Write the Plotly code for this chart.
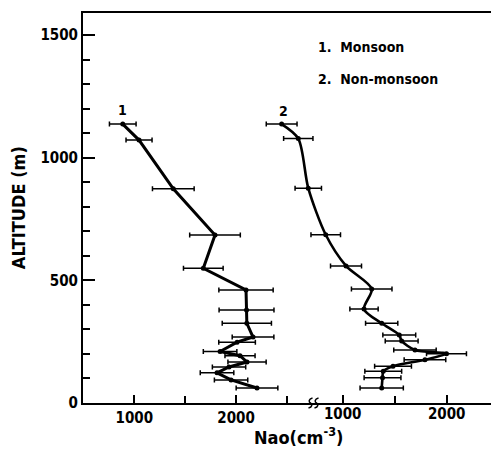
import plotly.graph_objects as go

# Curve 1: Monsoon
alt1 = [1137, 1072, 873, 685, 549, 461, 379, 325, 269, 248, 210, 193, 167, 147, 123, 94, 61]
nao1 = [886, 1046, 1383, 1793, 1678, 2098, 2103, 2106, 2167, 2010, 1843, 2039, 2108, 1931, 1813, 1951, 2206]
err1 = [131, 128, 205, 249, 195, 267, 270, 242, 205, 180, 165, 148, 188, 164, 165, 164, 205]

# Curve 2: Non-monsoon
alt2 = [1137, 1078, 876, 686, 559, 465, 383, 325, 277, 253, 216, 201, 176, 150, 129, 103, 61]
nao2 = [413, 573, 669, 837, 1032, 1279, 1205, 1375, 1544, 1567, 1695, 1998, 1791, 1484, 1390, 1383, 1375]
err2 = [148, 141, 127, 142, 149, 195, 136, 155, 158, 158, 204, 192, 200, 177, 177, 177, 208]

xticks1 = [1000, 2000]
xminor1 = [1500, 2500]
xticks2 = [1000, 2000]
xminor2 = [1500]
yticks = [0, 500, 1000, 1500]

FONT = "DejaVu Sans Condensed, DejaVu Sans, sans-serif"

fig = go.Figure()
fig.add_trace(go.Scatter(
    x=nao1, y=alt1, mode="lines+markers", xaxis="x", yaxis="y",
    line=dict(color="black", width=3),
    marker=dict(color="black", size=5),
    error_x=dict(type="data", array=err1, symmetric=True, color="black",
                 thickness=1.5, width=2.5),
    showlegend=False))
fig.add_trace(go.Scatter(
    x=nao2, y=alt2, mode="lines+markers", xaxis="x2", yaxis="y",
    line=dict(color="black", width=2.6, shape="spline", smoothing=0.8),
    marker=dict(color="black", size=5),
    error_x=dict(type="data", array=err2, symmetric=True, color="black",
                 thickness=1.5, width=2.5),
    showlegend=False))

axis_font = dict(family=FONT, size=15, color="black", weight="bold")

fig.update_layout(
    width=491, height=458,
    margin=dict(l=83, r=0, t=13, b=55),
    paper_bgcolor="white", plot_bgcolor="white",
    font=dict(family=FONT, color="black", weight="bold"),
    xaxis=dict(range=[495, 4507], tickvals=xticks1,
               ticks="inside", ticklen=8, tickwidth=2, tickcolor="black",
               minor=dict(tickvals=xminor1, ticks="inside", ticklen=7,
                          tickwidth=2, tickcolor="black", showgrid=False),
               showline=True, linewidth=2, linecolor="black", mirror=True,
               showgrid=False, zeroline=False, tickfont=axis_font),
    xaxis2=dict(range=[-1497, 2426], tickvals=xticks2,
                overlaying="x", anchor="y", side="bottom",
                ticks="inside", ticklen=8, tickwidth=2, tickcolor="black",
                minor=dict(tickvals=xminor2, ticks="inside", ticklen=7,
                           tickwidth=2, tickcolor="black", showgrid=False),
                showline=False, showgrid=False, zeroline=False, tickfont=axis_font),
    yaxis=dict(range=[0, 1590], tickvals=yticks,
               ticks="inside", ticklen=12, tickwidth=2, tickcolor="black",
               minor=dict(dtick=100, tick0=0, ticks="inside", ticklen=7,
                          tickwidth=2, tickcolor="black", showgrid=False),
               showline=True, linewidth=2, linecolor="black",
               showgrid=False, zeroline=False, tickfont=axis_font),
)

# Axis titles
fig.add_annotation(xref="paper", yref="paper", x=0.527, y=-0.085,
                   text="Nao(cm<sup>-3</sup>)", showarrow=False,
                   xanchor="center", yanchor="middle",
                   font=dict(family=FONT, size=18, color="black", weight="bold"))
fig.add_annotation(xref="paper", yref="paper", x=-0.159, y=0.5,
                   text="ALTITUDE (m)", showarrow=False, textangle=-90,
                   xanchor="center", yanchor="middle",
                   font=dict(family=FONT, size=18, color="black", weight="bold"))

# Curve labels
fig.add_annotation(x=nao1[0], y=alt1[0] + 58, xref="x", yref="y", text="1",
                   showarrow=False,
                   font=dict(family=FONT, size=14, color="black", weight="bold"))
fig.add_annotation(x=nao2[0] + 20, y=alt2[0] + 52, xref="x2", yref="y", text="2",
                   showarrow=False,
                   font=dict(family=FONT, size=14, color="black", weight="bold"))

# Legend text
fig.add_annotation(xref="paper", yref="paper", x=0.570, y=0.9136,
                   text="1.  Monsoon", showarrow=False, xanchor="left", yanchor="middle",
                   font=dict(family=FONT, size=14, color="black", weight="bold"))
fig.add_annotation(xref="paper", yref="paper", x=0.570, y=0.8308,
                   text="2.  Non-monsoon", showarrow=False, xanchor="left", yanchor="middle",
                   font=dict(family=FONT, size=14, color="black", weight="bold"))

# Axis break mark
brk = (313.5 - 83) / 408
fig.add_shape(type="path", xref="paper", yref="paper",
              xsizemode="pixel", ysizemode="pixel", xanchor=brk, yanchor=0,
              path="M -1,5 C -5,4 -5,1 -3,0 C -1,-1 -1,-4 -5,-5 "
                   "M 5,5 C 1,4 1,1 3,0 C 5,-1 5,-4 1,-5",
              line=dict(color="black", width=1.5))

fig.write_html("out.html")
